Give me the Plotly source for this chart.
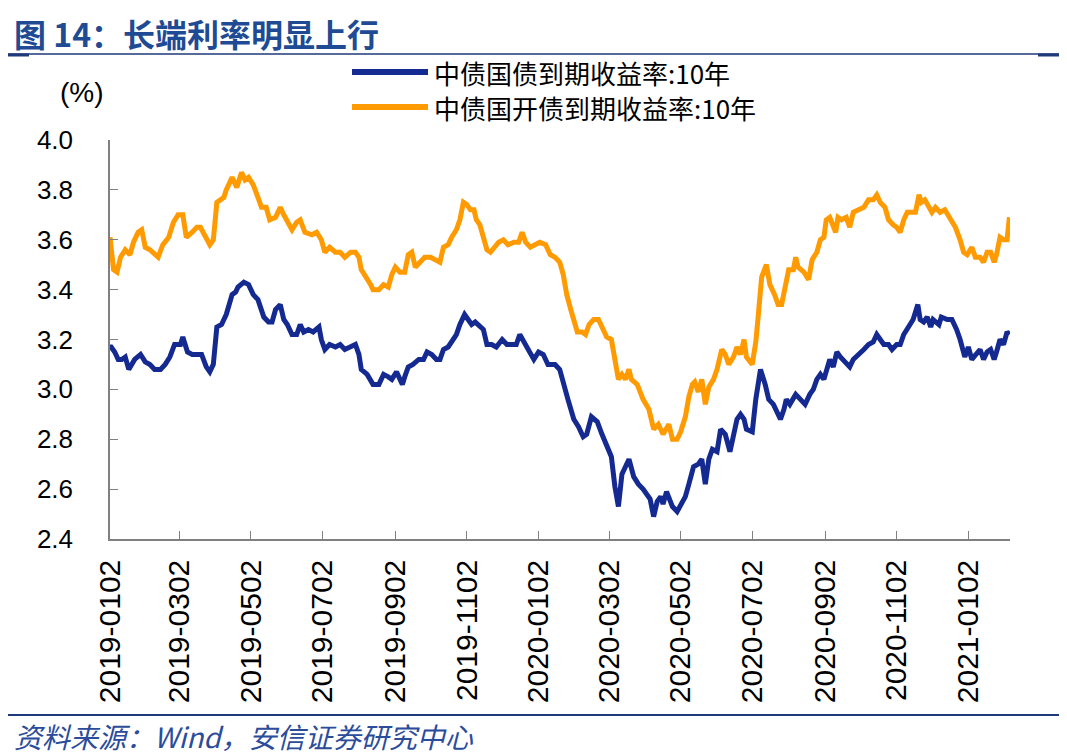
import pandas as pd
import plotly.graph_objects as go

# ---------------- data ----------------
base_date = "2019-01-02"

# 中债国债到期收益率:10年  (day offset from base_date, yield %)
cgb_day = [0, 1, 4, 7, 10, 13, 16, 18, 21, 26, 30, 34, 38, 43, 47, 51, 55, 60, 62, 66,
           70, 74, 78, 82, 85, 88, 91, 95, 99, 104, 107, 109, 114, 118, 122, 126, 131, 135, 138, 141,
           145, 148, 151, 155, 159, 162, 165, 169, 173, 178, 180, 183, 187, 192, 196, 200, 205, 209, 212, 214,
           219, 222, 224, 229, 233, 237, 240, 244, 249, 251, 254, 258, 263, 267, 270, 274, 278, 281, 284, 288,
           293, 295, 298, 302, 305, 308, 311, 315, 318, 321, 325, 329, 334, 338, 342, 346, 349, 354, 358, 361,
           365, 369, 373, 375, 379, 383, 386, 390, 395, 399, 403, 406, 410, 415, 419, 423, 427, 430, 433, 436,
           439, 442, 446, 450, 454, 457, 460, 463, 466, 469, 471, 474, 479, 483, 486, 490, 493, 497, 501, 504,
           507, 510, 513, 517, 520, 524, 528, 531, 534, 537, 540, 542, 547, 550, 554, 558, 561, 565, 568, 571,
           574, 576, 579, 584, 588, 592, 596, 599, 602, 605, 608, 611, 613, 616, 619, 622, 626, 630, 633, 638,
           642, 646, 650, 653, 656, 659, 663, 666, 670, 673, 676, 680, 684, 688, 690, 693, 696, 699, 701, 706,
           708, 713, 717, 721, 724, 728, 731, 734, 737, 741, 744, 747, 750, 753, 755, 758, 761, 764, 766]
cgb_yield = [3.17, 3.17, 3.15, 3.12, 3.12, 3.13, 3.08, 3.10, 3.12, 3.14, 3.11, 3.10, 3.08, 3.08, 3.10, 3.13, 3.18, 3.18, 3.21, 3.15,
             3.14, 3.14, 3.14, 3.09, 3.07, 3.10, 3.25, 3.26, 3.30, 3.38, 3.39, 3.41, 3.43, 3.42, 3.38, 3.36, 3.29, 3.27, 3.27, 3.32,
             3.34, 3.28, 3.26, 3.22, 3.22, 3.26, 3.23, 3.24, 3.23, 3.25, 3.20, 3.16, 3.18, 3.17, 3.18, 3.16, 3.17, 3.18, 3.14, 3.08,
             3.06, 3.04, 3.02, 3.02, 3.06, 3.05, 3.04, 3.07, 3.02, 3.05, 3.09, 3.10, 3.12, 3.12, 3.15, 3.14, 3.12, 3.12, 3.16, 3.17,
             3.21, 3.22, 3.26, 3.30, 3.28, 3.26, 3.27, 3.25, 3.24, 3.18, 3.18, 3.17, 3.20, 3.18, 3.18, 3.18, 3.22, 3.18, 3.14, 3.12,
             3.15, 3.14, 3.10, 3.10, 3.10, 3.08, 3.02, 2.96, 2.88, 2.85, 2.81, 2.82, 2.89, 2.87, 2.82, 2.78, 2.73, 2.61, 2.53, 2.66,
             2.69, 2.72, 2.65, 2.62, 2.60, 2.58, 2.56, 2.49, 2.55, 2.57, 2.54, 2.59, 2.53, 2.51, 2.54, 2.57, 2.62, 2.69, 2.70, 2.72,
             2.62, 2.72, 2.76, 2.75, 2.84, 2.82, 2.75, 2.82, 2.88, 2.90, 2.88, 2.84, 2.83, 2.96, 3.08, 3.02, 2.96, 2.94, 2.91, 2.88,
             2.92, 2.96, 2.94, 2.98, 2.96, 2.94, 2.98, 3.00, 3.04, 3.06, 3.04, 3.10, 3.12, 3.09, 3.15, 3.13, 3.11, 3.09, 3.12, 3.14,
             3.16, 3.18, 3.19, 3.22, 3.20, 3.18, 3.18, 3.16, 3.18, 3.18, 3.22, 3.25, 3.28, 3.34, 3.28, 3.27, 3.29, 3.25, 3.28, 3.26,
             3.29, 3.28, 3.28, 3.24, 3.20, 3.13, 3.17, 3.12, 3.14, 3.16, 3.12, 3.15, 3.16, 3.12, 3.15, 3.20, 3.18, 3.23, 3.22]

# 中债国开债到期收益率:10年
cdb_day = [0, 1, 3, 6, 9, 13, 17, 20, 24, 27, 30, 34, 41, 45, 50, 54, 58, 62, 65, 70,
           74, 77, 81, 85, 88, 91, 97, 99, 104, 108, 112, 115, 118, 122, 126, 129, 133, 136, 141, 145,
           148, 152, 155, 159, 162, 166, 172, 176, 180, 183, 187, 192, 196, 200, 205, 209, 212, 214, 217, 222,
           224, 229, 233, 237, 240, 243, 247, 251, 254, 257, 260, 264, 268, 273, 277, 281, 284, 288, 291, 295,
           298, 301, 304, 307, 310, 312, 315, 318, 321, 324, 327, 331, 335, 339, 344, 348, 351, 354, 358, 362,
           366, 371, 375, 379, 383, 386, 389, 393, 398, 402, 405, 408, 412, 416, 419, 423, 427, 430, 433, 436,
           439, 442, 444, 449, 452, 454, 459, 463, 467, 471, 476, 479, 483, 486, 490, 493, 496, 498, 501, 504,
           507, 510, 514, 517, 521, 524, 527, 531, 534, 537, 540, 542, 547, 550, 552, 555, 559, 562, 566, 569,
           572, 575, 578, 582, 584, 586, 591, 595, 598, 602, 605, 608, 610, 613, 618, 620, 623, 627, 630, 633,
           637, 642, 646, 650, 653, 656, 660, 663, 667, 670, 673, 676, 679, 683, 686, 689, 691, 694, 697, 700,
           703, 707, 711, 716, 720, 724, 727, 730, 734, 737, 741, 744, 747, 750, 753, 755, 758, 761, 764, 766]
cdb_yield = [3.61, 3.55, 3.48, 3.47, 3.53, 3.56, 3.54, 3.59, 3.63, 3.64, 3.57, 3.56, 3.53, 3.58, 3.61, 3.67, 3.70, 3.70, 3.61, 3.63,
             3.65, 3.65, 3.61, 3.58, 3.60, 3.75, 3.77, 3.80, 3.85, 3.81, 3.87, 3.84, 3.85, 3.82, 3.77, 3.73, 3.73, 3.68, 3.69, 3.73,
             3.70, 3.67, 3.64, 3.67, 3.68, 3.63, 3.62, 3.63, 3.60, 3.55, 3.57, 3.55, 3.55, 3.53, 3.55, 3.55, 3.53, 3.48, 3.46, 3.42,
             3.40, 3.40, 3.42, 3.41, 3.46, 3.49, 3.47, 3.47, 3.54, 3.55, 3.49, 3.51, 3.53, 3.53, 3.52, 3.51, 3.57, 3.58, 3.61, 3.64,
             3.68, 3.75, 3.74, 3.72, 3.72, 3.68, 3.66, 3.61, 3.56, 3.55, 3.57, 3.59, 3.60, 3.58, 3.59, 3.59, 3.63, 3.59, 3.57, 3.58,
             3.59, 3.58, 3.54, 3.53, 3.51, 3.46, 3.38, 3.31, 3.23, 3.23, 3.22, 3.26, 3.28, 3.28, 3.25, 3.21, 3.20, 3.12, 3.04, 3.06,
             3.04, 3.08, 3.04, 3.02, 2.98, 2.96, 2.92, 2.84, 2.86, 2.82, 2.86, 2.80, 2.80, 2.83, 2.89, 2.97, 3.02, 3.03, 2.99, 3.04,
             2.94, 3.01, 3.04, 3.08, 3.16, 3.14, 3.10, 3.13, 3.17, 3.14, 3.20, 3.13, 3.10, 3.19, 3.29, 3.45, 3.50, 3.42, 3.38, 3.34,
             3.34, 3.42, 3.48, 3.48, 3.53, 3.49, 3.47, 3.44, 3.52, 3.55, 3.60, 3.61, 3.68, 3.69, 3.63, 3.69, 3.68, 3.69, 3.65, 3.71,
             3.72, 3.73, 3.76, 3.76, 3.78, 3.75, 3.73, 3.68, 3.66, 3.65, 3.63, 3.68, 3.71, 3.71, 3.71, 3.78, 3.75, 3.76, 3.73, 3.71,
             3.73, 3.71, 3.72, 3.68, 3.65, 3.60, 3.55, 3.54, 3.57, 3.53, 3.53, 3.51, 3.55, 3.55, 3.51, 3.54, 3.61, 3.60, 3.60, 3.69]

series_names = ["中债国债到期收益率:10年", "中债国开债到期收益率:10年"]
series_colors = ["#142A91", "#FF9A00"]

x_tick_dates = ["2019-01-02", "2019-03-02", "2019-05-02", "2019-07-02", "2019-09-02", "2019-11-02",
                "2020-01-02", "2020-03-02", "2020-05-02", "2020-07-02", "2020-09-02", "2020-11-02",
                "2021-01-02"]
x_tick_text = ["2019-0102", "2019-0302", "2019-0502", "2019-0702", "2019-0902", "2019-1102",
               "2020-0102", "2020-0302", "2020-0502", "2020-0702", "2020-0902", "2020-1102",
               "2021-0102"]
y_ticks = [2.4, 2.6, 2.8, 3.0, 3.2, 3.4, 3.6, 3.8, 4.0]
x_end_offset = 766.5

title_text = "图 14：长端利率明显上行"
unit_text = "(%)"
source_text = "资料来源：Wind，安信证券研究中心"

# ---------------- build ----------------
base = pd.Timestamp(base_date)
cgb_dates = base + pd.to_timedelta(cgb_day, unit="D")
cdb_dates = base + pd.to_timedelta(cdb_day, unit="D")

OFF = 8                      # page body margin of the html page
W, H = 1067 - OFF, 756 - OFF
L, T = 110 - OFF, 140 - OFF
R = W - (1010 - OFF)
B = H - (539 - OFF)
PW, PH = W - L - R, H - T - B


def px(xp):  # page x -> paper
    return (xp - OFF - L) / PW


def py(yp):  # page y -> paper
    return (H - B - (yp - OFF)) / PH


FONT_NUM = "Arial, 'Liberation Sans', sans-serif"
FONT_CJK = "'Noto Sans CJK SC', 'Liberation Sans', sans-serif"
AXIS_COLOR = "#808080"

fig = go.Figure()
fig.add_trace(go.Scatter(x=cgb_dates, y=cgb_yield, mode="lines", name=series_names[0],
                         line=dict(color=series_colors[0], width=5)))
fig.add_trace(go.Scatter(x=cdb_dates, y=cdb_yield, mode="lines", name=series_names[1],
                         line=dict(color=series_colors[1], width=5)))

fig.update_layout(
    width=W, height=H, autosize=False,
    margin=dict(l=L, r=R, t=T, b=B, pad=0),
    plot_bgcolor="white", paper_bgcolor="white",
    showlegend=False,
    font=dict(family=FONT_NUM, color="#000000"),
)

fig.update_xaxes(
    type="date",
    range=[base, base + pd.Timedelta(days=x_end_offset)],
    tickmode="array", tickvals=x_tick_dates, ticktext=x_tick_text,
    tickangle=-90, tickfont=dict(family=FONT_NUM, size=30, color="#000000"),
    ticks="inside", ticklen=8, tickwidth=1.2, tickcolor=AXIS_COLOR,
    showline=True, linecolor=AXIS_COLOR, linewidth=1.5,
    showgrid=False, zeroline=False, ticklabelstandoff=7,
)
fig.update_yaxes(
    range=[2.4, 4.0],
    tickmode="array", tickvals=y_ticks, ticktext=[f"{v:.1f}" for v in y_ticks],
    tickfont=dict(family=FONT_NUM, size=26, color="#000000"),
    ticks="inside", ticklen=8, tickwidth=1.2, tickcolor=AXIS_COLOR,
    showline=True, linecolor=AXIS_COLOR, linewidth=1.5,
    showgrid=False, zeroline=False, ticklabelstandoff=30,
)

shapes = []
annotations = []

# title + header rule
annotations.append(dict(xref="paper", yref="paper", x=px(13), y=py(9), xanchor="left", yanchor="top",
                        text="<b>" + title_text + "</b>", showarrow=False, borderpad=0,
                        font=dict(family=FONT_CJK, size=32, color="#1E4B93")))
shapes.append(dict(type="line", xref="paper", yref="paper", x0=px(8), x1=px(1059), y0=py(54), y1=py(54),
                   line=dict(color="#1F3A78", width=1.6)))
shapes.append(dict(type="line", xref="paper", yref="paper", x0=px(8), x1=px(29), y0=py(55), y1=py(55),
                   line=dict(color="#1F3A78", width=3)))
shapes.append(dict(type="line", xref="paper", yref="paper", x0=px(1038), x1=px(1059), y0=py(55), y1=py(55),
                   line=dict(color="#1F3A78", width=3)))

# unit label
annotations.append(dict(xref="paper", yref="paper", x=px(82), y=py(93), xanchor="center", yanchor="middle",
                        text=unit_text, showarrow=False, font=dict(family=FONT_NUM, size=28, color="#000000")))

# legend (drawn to match the long legend strokes of the reference)
for i, (nm, col) in enumerate(zip(series_names, series_colors)):
    yy = 72 + i * 35
    shapes.append(dict(type="line", xref="paper", yref="paper", x0=px(352), x1=px(428), y0=py(yy), y1=py(yy),
                       line=dict(color=col, width=6)))
    annotations.append(dict(xref="paper", yref="paper", x=px(433), y=py(yy), xanchor="left", yanchor="middle",
                            text=nm, showarrow=False, borderpad=0,
                            font=dict(family=FONT_CJK, size=26, color="#000000")))

# footer rule + source
shapes.append(dict(type="line", xref="paper", yref="paper", x0=px(8), x1=px(1059), y0=py(715), y1=py(715),
                   line=dict(color="#1F3A78", width=2.2)))
annotations.append(dict(xref="paper", yref="paper", x=px(12), y=py(736), xanchor="left", yanchor="middle",
                        text="<i>" + source_text + "</i>", showarrow=False,
                        font=dict(family=FONT_CJK, size=28, color="#2B4C9B")))

fig.update_layout(shapes=shapes, annotations=annotations)
fig.write_html("out.html")
